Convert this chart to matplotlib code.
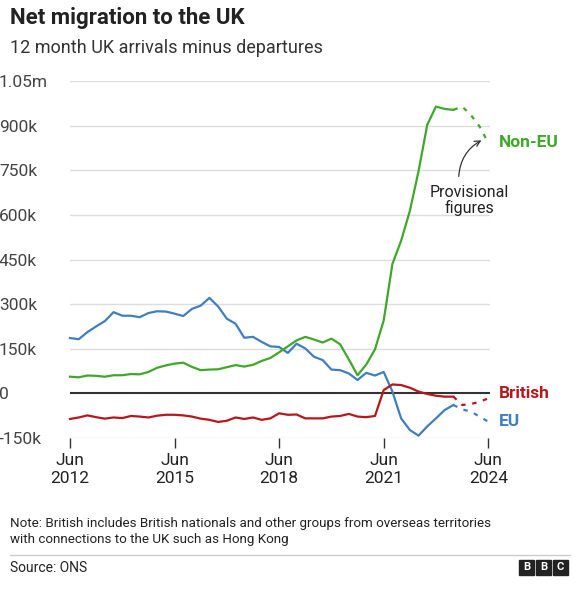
import matplotlib
matplotlib.use("Agg")
import matplotlib.pyplot as plt
import numpy as np

plt.rcParams['font.family'] = ['Roboto', 'DejaVu Sans']

quarters = np.arange(45)          # Jun 2012 .. Jun 2023, quarterly
prov_q = np.arange(44, 49)        # Jun 2023 .. Jun 2024 provisional
non_eu = [56,54,60,59,56,61,61,65,64,72,86,94,100,103,89,78,80,81,88,95,90,96,109,119,138,158,178,190,181,171,184,165,114,61,97,148,245,435,513,613,747,903,964,956,953]
non_eu_prov = [953,964,936,897,842]
eu = [186,182,206,225,243,273,261,261,256,270,276,275,268,260,284,295,321,292,251,234,187,190,173,158,156,136,167,151,123,112,80,78,67,45,69,60,72,6,-84,-123,-142,-111,-84,-56,-39]
eu_prov = [-39,-54,-61,-78,-95]
british = [-86,-81,-74,-80,-85,-81,-83,-76,-78,-81,-75,-72,-72,-74,-78,-85,-89,-96,-92,-81,-86,-81,-89,-84,-67,-72,-71,-84,-84,-84,-78,-76,-69,-78,-80,-76,11,30,28,19,6,-2,-8,-11,-11]
british_prov = [-11,-39,-36,-28,-17]
yticks = [-150,0,150,300,450,600,750,900,1050]
ylabels = ['-150k','0','150k','300k','450k','600k','750k','900k','1.05m']
xticks = [0,12,24,36,48]
xlabels = ['Jun\n2012','Jun\n2015','Jun\n2018','Jun\n2021','Jun\n2024']

GREEN, BLUE, RED = '#3fa829', '#3f7fbf', '#b8161b'

fig = plt.figure(figsize=(5.8,6), dpi=100)
ax = fig.add_axes([70/580, 1-438/600, 420/580, 357/600])
for s in ax.spines.values():
    s.set_visible(False)
ax.set_xlim(0,48.2)
ax.set_ylim(-150,1050)
for v in yticks:
    if v != 0:
        ax.axhline(v, color='#dddddd', lw=1, zorder=0)
ax.axhline(0, color='#333333', lw=1.5, zorder=1)

ax.plot(quarters, eu, color=BLUE, lw=1.6, clip_on=False)
ax.plot(quarters, british, color=RED, lw=1.6, clip_on=False)
ax.plot(quarters, non_eu, color=GREEN, lw=1.6, clip_on=False)
ax.plot(prov_q, eu_prov, color=BLUE, lw=1.6, ls=(0,(2,3)), clip_on=False)
ax.plot(prov_q, british_prov, color=RED, lw=1.6, ls=(0,(2,3)), clip_on=False)
ax.plot(prov_q, non_eu_prov, color=GREEN, lw=1.6, ls=(0,(2,3)), clip_on=False)

ax.set_yticks(yticks)
ax.set_yticklabels(ylabels, fontsize=12.5, color='#444444')
ax.tick_params(axis='y', length=0, pad=8)
for lab in ax.get_yticklabels():
    lab.set_horizontalalignment('left')
    lab.set_x(-60/420)
ax.set_xticks(xticks)
ax.set_xticklabels(xlabels, fontsize=12.5, color='#222222')
ax.tick_params(axis='x', length=7, width=1, color='#333333', pad=4)

ax.text(49.2, 842, 'Non-EU', color=GREEN, fontsize=12.5, fontweight='bold', va='center')
ax.text(49.2, 0, 'British', color=RED, fontsize=12.5, fontweight='bold', va='center')
ax.text(49.2, -95, 'EU', color=BLUE, fontsize=12.5, fontweight='bold', va='center')
ax.text(45.8, 648, 'Provisional\nfigures', fontsize=11.5, color='#222222', ha='center', va='center', linespacing=1.05)
ax.annotate('', xy=(47.5, 855), xytext=(44.6, 720),
            arrowprops=dict(arrowstyle='->', color='#333333', lw=0.9,
                            connectionstyle='arc3,rad=-0.3'))

fig.text(10/580, 1-18/600, 'Net migration to the UK', fontsize=16, fontweight='bold', va='center', color='#222222')
fig.text(10/580, 1-48/600, '12 month UK arrivals minus departures', fontsize=13, va='center', color='#333333')
fig.text(10/580, 1-532/600, 'Note: British includes British nationals and other groups from overseas territories\nwith connections to the UK such as Hong Kong',
         fontsize=9.6, va='center', color='#222222', linespacing=1.3)
fig.add_artist(plt.Line2D([10/580, 570/580], [1-555/600, 1-555/600], color='#cccccc', lw=1))
fig.text(10/580, 1-568/600, 'Source: ONS', fontsize=10, va='center', color='#222222')
for i, ch in enumerate('BBC'):
    x0 = 519 + i*17
    fig.add_artist(plt.Rectangle((x0/580, 1-575/600), 15/580, 15/600, color='#222222'))
    fig.text((x0+7.5)/580, 1-567.5/600, ch, fontsize=8, fontweight='bold', color='white', ha='center', va='center')

fig.savefig('out.png', dpi=100)
